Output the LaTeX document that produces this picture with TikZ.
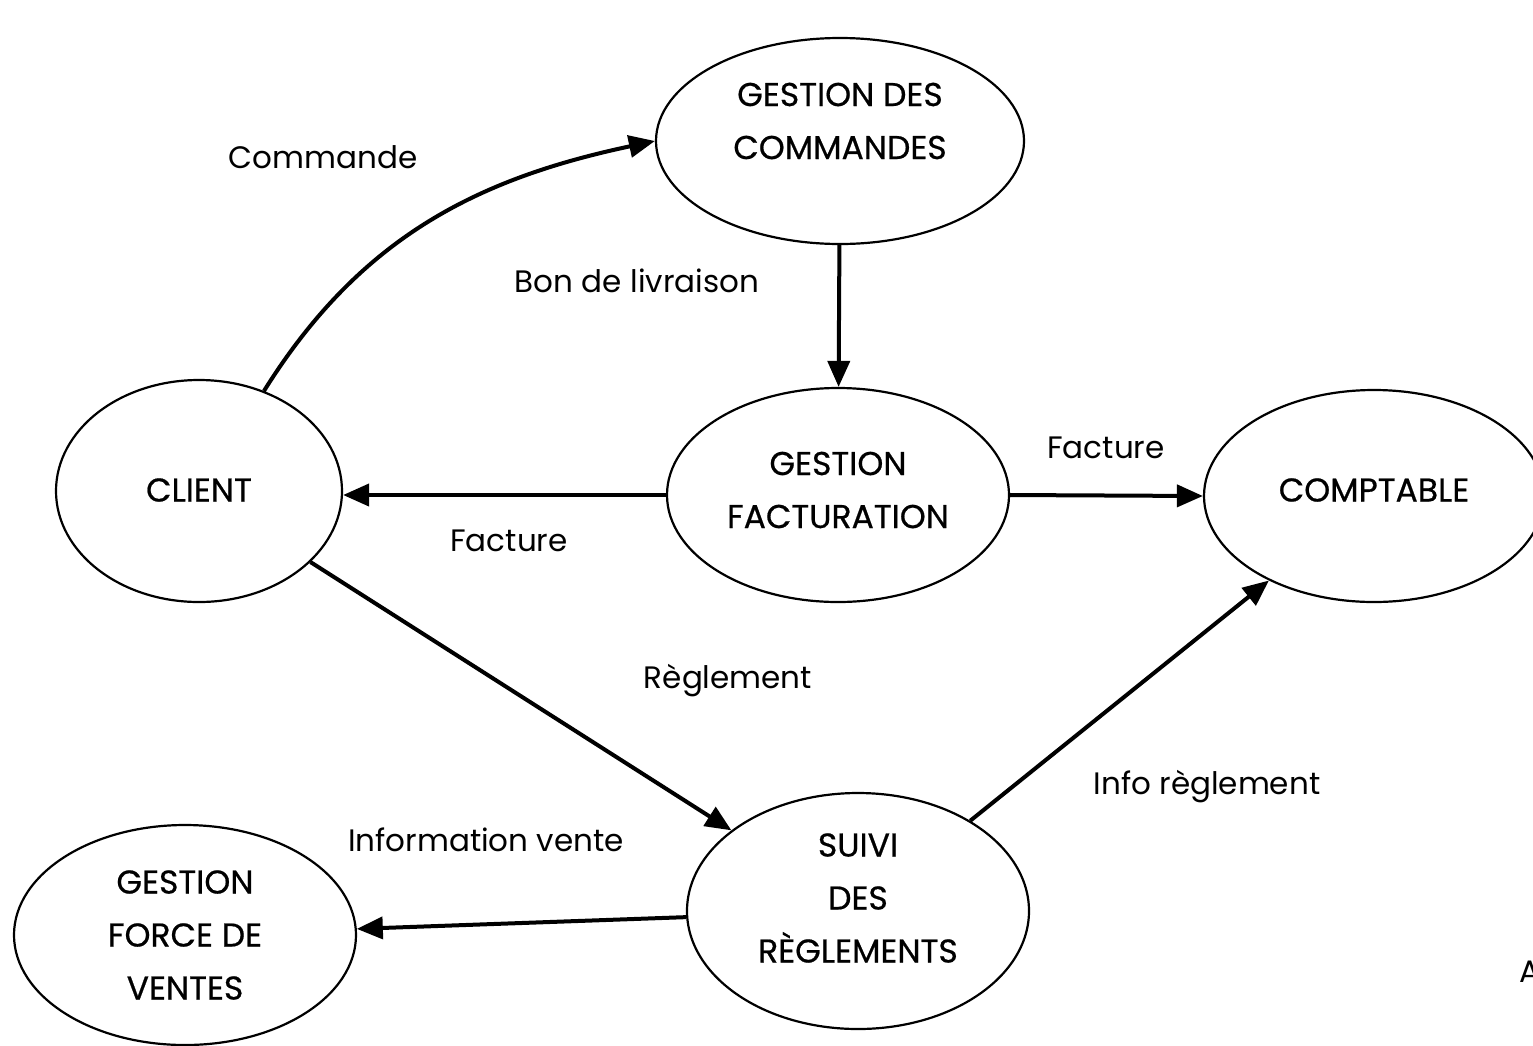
\documentclass[tikz,border=0pt]{standalone}
\usepackage{fontspec}
\setmainfont{Poppins}
\usetikzlibrary{arrows.meta,shapes.geometric}
\begin{document}
\begin{tikzpicture}[x=1pt,y=-1pt,
  proc/.style={draw,ellipse,line width=2.2pt,inner sep=0pt},
  ptext/.style={align=center,inner sep=0pt,
    font=\fontsize{33}{53}\selectfont\addfontfeature{FakeBold=0.6}},
  flow/.style={line width=4pt,-{Triangle[length=26pt,width=22pt]}},
  lbl/.style={font=\fontsize{31}{36}\selectfont}]
\clip (0,0) rectangle (1533,1045);
\fill[white] (0,0) rectangle (1533,1045);

% processes and actors: outlines
\node[proc,minimum width=368pt,minimum height=206pt] (gdc) at (840,141) {};
\node[proc,minimum width=286pt,minimum height=222pt] (client) at (199,491) {};
\node[proc,minimum width=342pt,minimum height=214pt] (gf) at (838,495) {};
\node[proc,minimum width=340pt,minimum height=212pt] (compta) at (1374,496) {};
\node[proc,minimum width=342pt,minimum height=236pt] (suivi) at (858,911) {};
\node[proc,minimum width=342pt,minimum height=220pt] (gfv) at (185,935) {};

% processes and actors: names
\node[ptext] (gdc-t) at (840,121) {GESTION DES\\COMMANDES};
\node[ptext] (client-t) at (199,490) {CLIENT};
\node[ptext] (gf-t) at (838,490) {GESTION\\FACTURATION};
\node[ptext] (compta-t) at (1374,490) {COMPTABLE};
\node[ptext] (suivi-t) at (858,898) {SUIVI\\DES\\RÈGLEMENTS};
\node[ptext] (gfv-t) at (185,935) {GESTION\\FORCE DE\\VENTES};

% flows
\draw[flow] (client.57) to[out=58,in=192] (gdc.west);
\draw[flow] (gdc) -- (gf);
\draw[flow] (gf.west) -- (gf.west -| client.east);
\draw[flow] (gf.east) -- (compta.west);
\draw[flow] (client) -- (suivi);
\draw[flow] (suivi) -- (compta);
\draw[flow] (suivi) -- (gfv);

% flow labels
\node[lbl] (l1) at (323,157) {Commande};
\node[lbl] (l2) at (637,281) {Bon de livraison};
\node[lbl] (l3) at (1106,448) {Facture};
\node[lbl] (l4) at (509,541) {Facture};
\node[lbl] (l5) at (728,681) {Règlement};
\node[lbl] (l6) at (1207,787) {Info règlement};
\node[lbl] (l7) at (486,840) {Information vente};
\node[lbl,anchor=west,inner sep=0pt] (l8) at (1519,972) {A};
\end{tikzpicture}
\end{document}
